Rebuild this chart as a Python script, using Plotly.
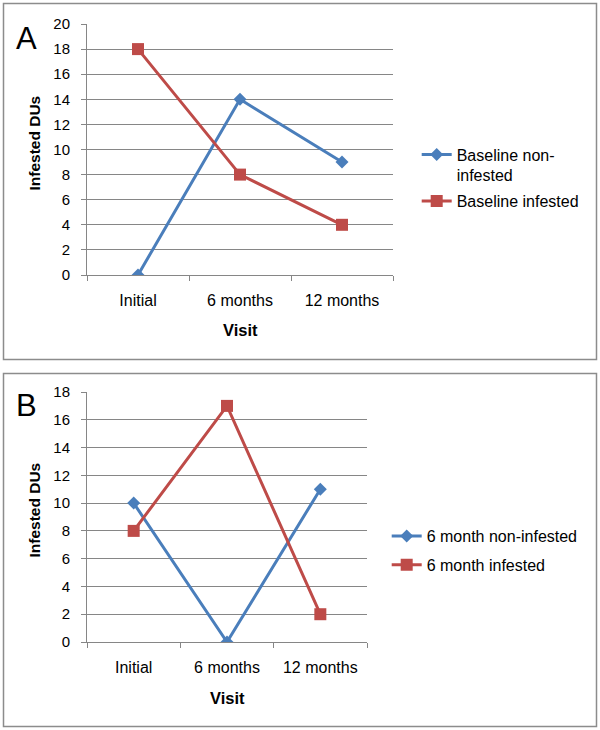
import plotly.graph_objects as go

categories = ["Initial", "6 months", "12 months"]
a_non_infested = [0, 14, 9]
a_infested = [18, 8, 4]
b_non_infested = [10, 0, 11]
b_infested = [8, 17, 2]
a_yticks = list(range(0, 21, 2))
b_yticks = list(range(0, 19, 2))

W, H = 600, 730
BLUE = "#4A7EBB"
RED = "#BE4B48"
GRID = "#868686"
FONT = "Liberation Sans, Arial, sans-serif"

def px(x):
    return x / W

def py(y):
    return 1 - y / H

def series(x, y, name, color, symbol, size, axes, legend, group):
    return go.Scatter(x=x, y=y, name=name, mode="lines+markers",
                      line=dict(color=color, width=3),
                      marker=dict(symbol=symbol, size=size, color=color),
                      xaxis="x" + axes, yaxis="y" + axes, legend=legend, legendgroup=group)

fig = go.Figure()
fig.add_trace(series(categories, a_non_infested, "Baseline non-<br>infested", BLUE, "diamond", 10, "", "legend", "a1"))
fig.add_trace(series(categories, a_infested, "Baseline infested", RED, "square", 12, "", "legend", "a2"))
fig.add_trace(series(categories, b_non_infested, "6 month non-infested", BLUE, "diamond", 10, "2", "legend2", "b1"))
fig.add_trace(series(categories, b_infested, "6 month infested", RED, "square", 12, "2", "legend2", "b2"))

xcommon = dict(type="category", range=[-0.5, 2.5], showgrid=False, showline=True,
               linecolor=GRID, linewidth=1, ticks="outside", tickson="boundaries",
               ticklen=5, tickcolor=GRID, tickfont=dict(size=16, color="#000", family=FONT),
               ticklabelstandoff=11, fixedrange=True)
ycommon = dict(showgrid=True, gridcolor=GRID, gridwidth=1, showline=True, linecolor=GRID,
               linewidth=1, ticks="outside", ticklen=5, tickcolor=GRID, zeroline=False,
               tickfont=dict(size=15, color="#000", family=FONT), ticklabelstandoff=8,
               fixedrange=True)

def ann(text, x, y, size, angle=0):
    return dict(text=text, x=px(x), y=py(y), xref="paper", yref="paper", showarrow=False,
                xanchor="center", yanchor="middle", textangle=angle,
                font=dict(size=size, family=FONT, color="#000"))

legend_common = dict(xanchor="left", yanchor="top", bgcolor="rgba(0,0,0,0)",
                     font=dict(size=16, family=FONT, color="#000"), itemwidth=30,
                     traceorder="grouped", valign="top")

fig.update_layout(
    width=W, height=H, autosize=False,
    margin=dict(l=0, r=0, t=0, b=0, pad=0, autoexpand=False),
    paper_bgcolor="white", plot_bgcolor="white",
    font=dict(family=FONT, color="#000", size=15),
    xaxis=dict(xcommon, domain=[px(87), px(393)], anchor="y"),
    yaxis=dict(ycommon, domain=[py(275), py(24)], range=[0, 20], tickvals=a_yticks, anchor="x"),
    xaxis2=dict(xcommon, domain=[px(87), px(367)], anchor="y2"),
    yaxis2=dict(ycommon, domain=[py(642), py(392)], range=[0, 18], tickvals=b_yticks, anchor="x2"),
    legend=dict(legend_common, x=px(416.7), y=py(137.5), tracegroupgap=2),
    legend2=dict(legend_common, x=px(386.7), y=py(519), tracegroupgap=5),
    showlegend=True,
    shapes=[
        dict(type="rect", xref="paper", yref="paper", x0=px(3.5), x1=px(596.5), y0=py(359.5), y1=py(3.5),
             line=dict(color="#8c8c8c", width=1.5)),
        dict(type="rect", xref="paper", yref="paper", x0=px(3.5), x1=px(596.5), y0=py(726.5), y1=py(373.5),
             line=dict(color="#8c8c8c", width=1.5)),
    ],
    annotations=[
        ann("A", 26, 38.5, 31),
        ann("B", 26, 405, 31),
        ann("<b>Infested DUs</b>", 33.5, 143, 15.5, -90),
        ann("<b>Infested DUs</b>", 33.5, 510, 15.5, -90),
        ann("<b>Visit</b>", 240.5, 330, 16.5),
        ann("<b>Visit</b>", 227, 698, 16.5),
    ],
)

fig.write_html("out.html", config={"displayModeBar": False},
               post_script="document.body.style.margin='0';document.body.style.overflow='hidden';")
